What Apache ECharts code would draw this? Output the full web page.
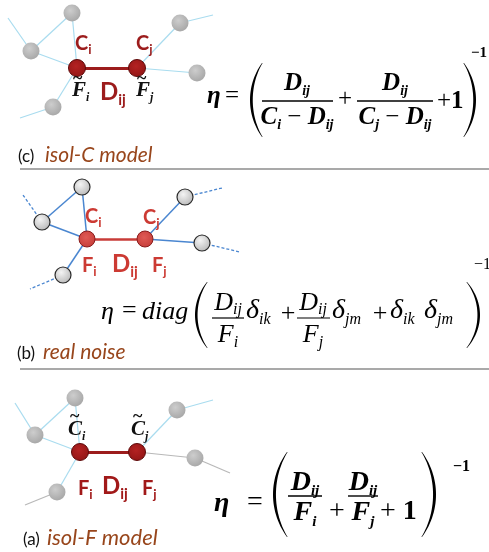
<!DOCTYPE html>
<html><head><meta charset="utf-8">
<script src="https://cdn.jsdelivr.net/npm/echarts/dist/echarts.min.js"></script>
<style>html,body{margin:0;padding:0;background:#fff}#c{width:489px;height:552px}</style>
</head><body><div id="c"></div>
<script>
// ---------------- DATA (node positions in diagram units) ----------------
const panelC_grey = [[72,13],[31,51],[53,107],[180,23],[197,73]];
const panelC_red = [[77,68],[137,68]];
const panelC_edgesLight = [[[8,18],[31,51]],[[31,51],[72,13]],[[72,13],[77,68]],[[31,51],[77,68]],[[77,68],[53,107]],[[53,107],[20,118]],[[137,68],[180,23]],[[180,23],[213,15]],[[137,68],[197,73]]];
const panelC_edgeMain = [[[77,68],[137,68]]];

const panelB_grey = [[82,187],[42,222],[63,275],[185,197],[202,243]];
const panelB_red = [[87,239],[145,239]];
const panelB_edgesSolid = [[[42,222],[82,187]],[[82,187],[87,239]],[[42,222],[87,239]],[[87,239],[63,275]],[[145,239],[185,197]],[[145,239],[202,243]]];
const panelB_edgesDashed = [[[42,222],[23,195]],[[63,275],[30,289]],[[185,197],[222,188]],[[202,243],[240,252]]];
const panelB_edgeMain = [[[87,239],[145,239]]];

const panelA_grey = [[75,398],[35,435],[57,492],[177,410],[195,458]];
const panelA_red = [[80,452],[137,452]];
const panelA_edgesLight = [[[15,403],[35,435]],[[35,435],[75,398]],[[75,398],[80,452]],[[35,435],[80,452]],[[80,452],[57,492]],[[137,452],[177,410]],[[177,410],[213,400]]];
const panelA_edgesGrey = [[[57,492],[25,505]],[[137,452],[195,458]],[[195,458],[230,473]]];
const panelA_edgeMain = [[[80,452],[137,452]]];

const captionTags = ['(c)','(b)','(a)'];
const captionNames = ['isol-C model','real noise','isol-F model'];

// ---------------- helpers ----------------
const SERIF = '"Liberation Serif","Times New Roman",serif';
const SANS = 'Lato,"Open Sans",sans-serif';
const mctx = document.createElement('canvas').getContext('2d');
function fontStr(sty, size, fam){ return (sty ? sty + ' ' : '') + size + 'px ' + fam; }
function measure(t, font){ mctx.font = font; return mctx.measureText(t).width; }
const K = 0.34;
const G = [];
function addText(x, base, t, font, size, fill, align){
  G.push({type:'text', x:x, y:base - K*size, z:20, silent:true,
    style:{text:t, font:font, fill:fill, align:align||'left', verticalAlign:'middle'}});
}
// token: [text, style, size, dy, family]
function run(x, base, tokens, fill, anchor){
  const fonts = tokens.map(tk => fontStr(tk[1], tk[2], tk[4]||SERIF));
  const ws = tokens.map((tk,i) => measure(tk[0], fonts[i]));
  const total = ws.reduce((a,b)=>a+b,0);
  let cx = anchor === 'center' ? x - total/2 : (anchor === 'right' ? x - total : x);
  tokens.forEach((tk,i) => { addText(cx, base + (tk[3]||0), tk[0], fonts[i], tk[2], fill||'#000'); cx += ws[i]; });
}
function hline(x1, x2, y, w, color){
  G.push({type:'line', z:20, silent:true, shape:{x1:x1,y1:y,x2:x2,y2:y}, style:{stroke:color||'#000', lineWidth:w||1.5}});
}
function cubicPts(p0, p1, p2, p3, n){
  const out = [];
  for (let i = 0; i <= n; i++){
    const t = i/n, u = 1-t;
    out.push([u*u*u*p0[0] + 3*u*u*t*p1[0] + 3*u*t*t*p2[0] + t*t*t*p3[0],
              u*u*u*p0[1] + 3*u*u*t*p1[1] + 3*u*t*t*p2[1] + t*t*t*p3[1]]);
  }
  return out;
}
function paren(xTip, xApex, yTop, yBot, t){
  const h = yBot - yTop;
  const dir = xApex < xTip ? 1 : -1;
  const xa = (8*xApex - 2*xTip)/6;
  const xb = (8*(xApex + dir*t) - 2*xTip)/6;
  const outer = cubicPts([xTip,yTop],[xa,yTop+0.3*h],[xa,yBot-0.3*h],[xTip,yBot],30);
  const inner = cubicPts([xTip+dir*0.6,yBot],[xb,yBot-0.3*h],[xb,yTop+0.3*h],[xTip+dir*0.6,yTop],30);
  G.push({type:'polygon', z:20, silent:true, shape:{points:outer.concat(inner)}, style:{fill:'#000'}});
}

// ---------------- formula (c) ----------------
(function(){
  const B='italic bold', S=25, s=14;
  run(207, 105, [['η',B,S]]);
  run(225, 105, [['=','normal',S]]);
  paren(262, 250, 63, 137, 2.6);
  run(297, 92, [['D',B,S],['ij',B,s,4]], '#000', 'center');
  hline(262, 333, 101, 1.4);
  run(297, 126, [['C',B,S],['i',B,s,4],[' − ','normal',S],['D',B,S],['ij',B,s,4]], '#000', 'center');
  run(345, 108, [['+','normal',S]], '#000', 'center');
  run(395, 92, [['D',B,S],['ij',B,s,4]], '#000', 'center');
  hline(357, 433, 101, 1.4);
  run(395, 126, [['C',B,S],['j',B,s,4],[' − ','normal',S],['D',B,S],['ij',B,s,4]], '#000', 'center');
  run(437, 110, [['+','normal',S],['1','bold',S]]);
  paren(464, 476, 63, 137, 2.6);
  run(471, 58, [['−1','bold',15]]);
})();

// ---------------- formula (b) ----------------
(function(){
  const B='italic', S=26, s=16, d=28;
  run(101, 321, [['η',B,S]]);
  run(122, 320, [['=','normal',S]]);
  run(142, 321, [['diag',B,S]]);
  paren(207, 195, 282, 348, 2.4);
  run(228, 312, [['D',B,S],['ij',B,s,3]], '#000', 'center');
  hline(212, 244, 318, 1.2);
  run(228, 344, [['F',B,S],['i',B,s,4]], '#000', 'center');
  run(246, 320, [['δ',B,d],['ik',B,s,5]]);
  run(288, 323, [['+','normal',S]], '#000', 'center');
  run(313, 312, [['D',B,S],['ij',B,s,3]], '#000', 'center');
  hline(297, 330, 318, 1.2);
  run(313, 344, [['F',B,S],['j',B,s,4]], '#000', 'center');
  run(332, 320, [['δ',B,d],['jm',B,s,5]]);
  run(380, 323, [['+','normal',S]], '#000', 'center');
  run(390, 320, [['δ',B,d],['ik',B,s,5]]);
  run(424, 320, [['δ',B,d],['jm',B,s,5]]);
  paren(467, 480, 282, 348, 2.4);
  run(474, 270, [['−1','normal',16]]);
})();

// ---------------- formula (a) ----------------
(function(){
  const B='italic bold', S=28, s=15;
  run(214, 513, [['η',B,S]]);
  run(247, 512, [['=','normal',S]]);
  paren(287, 273, 452, 537, 2.8);
  run(305, 492, [['D',B,S],['ij',B,s,4]], '#000', 'center');
  hline(288, 322, 496, 1.4);
  run(305, 522, [['F',B,S],['i',B,s,5]], '#000', 'center');
  run(337, 521, [['+','normal',S]], '#000', 'center');
  run(363, 492, [['D',B,S],['ij',B,s,4]], '#000', 'center');
  hline(348, 378, 496, 1.4);
  run(363, 522, [['F',B,S],['j',B,s,5]], '#000', 'center');
  run(380, 521, [['+ ','normal',S],['1','bold',S]]);
  paren(422, 436, 452, 537, 2.8);
  run(453, 472, [['−1','bold',16]]);
})();

// ---------------- node labels ----------------
const redC = '#9c1c1c', redB = '#cc3a33', redA = '#a11919';
const LW = 'bold';
// panel c
run(75, 50, [['C',LW,20,0,SANS],['i',LW,13,4,SANS]], redC);
run(136, 50, [['C',LW,20,0,SANS],['j',LW,13,4,SANS]], redC);
run(100, 100, [['D',LW,24,0,SANS],['ij',LW,15,5,SANS]], redC);
run(72, 98, [['F','italic bold',21],['i','italic bold',12,4]], '#111');
run(73, 85, [['~','bold',18]], '#111');
run(136, 98, [['F','italic bold',21],['j','italic bold',12,4]], '#111');
run(137, 85, [['~','bold',18]], '#111');
// panel b
run(85, 223, [['C',LW,20,0,SANS],['i',LW,13,4,SANS]], redB);
run(143, 224, [['C',LW,20,0,SANS],['j',LW,13,4,SANS]], redB);
run(82, 272, [['F',LW,20,0,SANS],['i',LW,13,4,SANS]], redB);
run(112, 272, [['D',LW,24,0,SANS],['ij',LW,15,5,SANS]], redB);
run(152, 272, [['F',LW,20,0,SANS],['j',LW,13,4,SANS]], redB);
// panel a
run(68, 437, [['C','italic bold',21],['i','italic bold',12,4]], '#111');
run(70, 423, [['~','bold',18]], '#111');
run(131, 437, [['C','italic bold',21],['j','italic bold',12,4]], '#111');
run(133, 423, [['~','bold',18]], '#111');
run(78, 495, [['F',LW,20,0,SANS],['i',LW,13,4,SANS]], redA);
run(102, 494, [['D',LW,24,0,SANS],['ij',LW,15,5,SANS]], redA);
run(142, 495, [['F',LW,20,0,SANS],['j',LW,13,4,SANS]], redA);

// ---------------- captions & separators ----------------
const capPos = [[18,45,162,21],[17,43,359,21],[23,47,545,22]];
captionTags.forEach((tag,i) => {
  const p = capPos[i];
  run(p[0], p[2], [[tag,'',17,0,SANS]], '#111');
  run(p[1], p[2], [[captionNames[i],'italic',p[3],0,SANS]], '#98461c');
});
hline(20, 489, 169, 2, '#a9a9a9');
hline(20, 489, 369, 2, '#a9a9a9');

// ---------------- series ----------------
function edges(data, style){ style.opacity = 1; return {type:'lines', coordinateSystem:'cartesian2d', polyline:false, silent:true, z:2, lineStyle:style, data:data.map(c=>({coords:c}))}; }
function nodes(data, size, itemStyle){ return {type:'scatter', silent:true, z:3, symbolSize:size, itemStyle:itemStyle, data:data}; }
const greyFlat = {opacity:1, color:{type:'radial',x:0.4,y:0.35,r:0.75,colorStops:[{offset:0,color:'#cdcdcd'},{offset:1,color:'#a3a3a3'}]}, borderWidth:0};
const greyOutlined = {opacity:1, color:{type:'radial',x:0.4,y:0.35,r:0.75,colorStops:[{offset:0,color:'#f4f4f4'},{offset:1,color:'#b2b2b2'}]}, borderColor:'#2a2a2a', borderWidth:1.2};
const redDark = {opacity:1, color:{type:'radial',x:0.45,y:0.4,r:0.7,colorStops:[{offset:0,color:'#b42222'},{offset:1,color:'#8e1414'}]}, borderColor:'#5e0a0a', borderWidth:1};
const redLight = {opacity:1, color:{type:'radial',x:0.45,y:0.4,r:0.7,colorStops:[{offset:0,color:'#e05a55'},{offset:1,color:'#c23a36'}]}, borderColor:'#8a1c1c', borderWidth:1};

const series = [
  edges(panelC_edgesLight, {color:'#a9dcef', width:1.2}),
  edges(panelC_edgeMain, {color:'#9c1c1c', width:3}),
  nodes(panelC_grey, 17, greyFlat),
  nodes(panelC_red, 17, redDark),
  edges(panelB_edgesSolid, {color:'#4a86d0', width:1.5}),
  edges(panelB_edgesDashed, {color:'#4a86d0', width:1.3, type:[3,2]}),
  edges(panelB_edgeMain, {color:'#c83c38', width:2.5}),
  nodes(panelB_grey, 16, greyOutlined),
  nodes(panelB_red, 16, redLight),
  edges(panelA_edgesLight, {color:'#a9dcef', width:1.2}),
  edges(panelA_edgesGrey, {color:'#b8b8b8', width:1.2}),
  edges(panelA_edgeMain, {color:'#9c1c1c', width:3}),
  nodes(panelA_grey, 17, greyFlat),
  nodes(panelA_red, 17, redDark)
];

const chart = echarts.init(document.getElementById('c'), null, {renderer:'canvas'});
chart.setOption({
  animation:false,
  backgroundColor:'#fff',
  grid:{left:0, right:0, top:0, bottom:0},
  xAxis:{type:'value', min:0, max:489, show:false},
  yAxis:{type:'value', min:0, max:552, inverse:true, show:false},
  series:series,
  graphic:{elements:G}
});
</script></body></html>
